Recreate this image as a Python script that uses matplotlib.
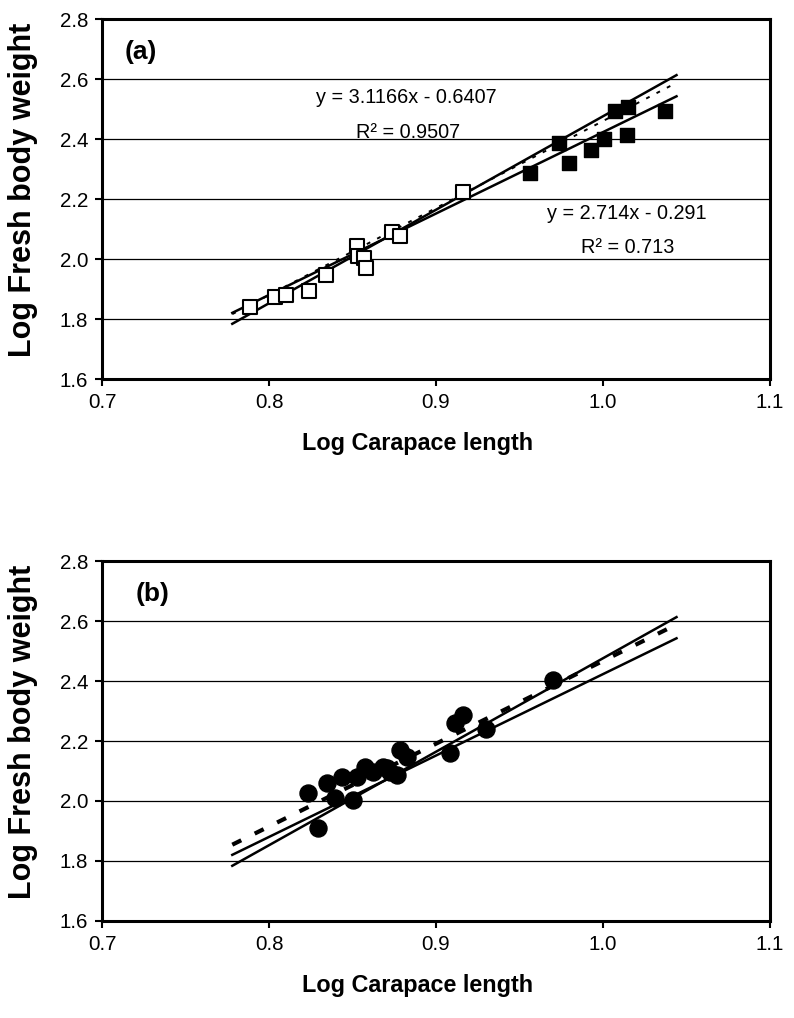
import matplotlib
matplotlib.use("Agg")
import matplotlib.pyplot as plt
from matplotlib import font_manager
import numpy as np

_names = {f.name for f in font_manager.fontManager.ttflist}
NARROW = 'Liberation Sans Narrow' in _names
H_FAMILY = ['Liberation Sans Narrow', 'Liberation Sans', 'DejaVu Sans'] if NARROW else ['Liberation Sans', 'DejaVu Sans']
K = 1.0 if NARROW else 0.82   # keep text widths similar if no narrow face
plt.rcParams['font.family'] = H_FAMILY

# ---- data: panel (a) ----
a_open_x = [0.7886, 0.8036, 0.8102, 0.8240, 0.8341, 0.8527, 0.8533, 0.8569, 0.8581, 0.8737, 0.8784, 0.9162]
a_open_y = [1.840, 1.873, 1.880, 1.893, 1.947, 2.043, 2.010, 2.003, 1.970, 2.090, 2.077, 2.223]
a_fill_x = [0.9563, 0.9737, 0.9796, 0.9928, 1.0006, 1.0072, 1.0150, 1.0144, 1.0371]
a_fill_y = [2.287, 2.387, 2.320, 2.363, 2.400, 2.493, 2.507, 2.413, 2.493]

# ---- data: panel (b) ----
b_x = [0.8235, 0.8295, 0.8346, 0.8395, 0.8435, 0.8505, 0.8525, 0.8575, 0.8625, 0.8685,
       0.8705, 0.8725, 0.8765, 0.8784, 0.8824, 0.9084, 0.9114, 0.9164, 0.9300, 0.9700]
b_y = [2.026, 1.909, 2.059, 2.009, 2.081, 2.003, 2.081, 2.114, 2.098, 2.114,
       2.109, 2.098, 2.087, 2.170, 2.148, 2.159, 2.259, 2.287, 2.240, 2.405]

# regression lines (slope, intercept)
line1 = (3.1166, -0.6407)
line2 = (2.714, -0.291)
dash_a = (2.90, -0.44)
dash_b = (2.76, -0.293)
line_x = [0.778, 1.044]

x_ticks = [0.7, 0.8, 0.9, 1.0, 1.1]
y_ticks = [1.6, 1.8, 2.0, 2.2, 2.4, 2.6, 2.8]
x_label = "Log Carapace length"
y_label = "Log Fresh body weight"

fig = plt.figure(figsize=(7.94, 10.18), dpi=100)
fig.patch.set_facecolor('white')

ax_a = fig.add_axes([0.1285, 0.6277, 0.8413, 0.3536])
ax_b = fig.add_axes([0.1285, 0.0953, 0.8413, 0.3536])


def style(ax, tag, tag_x):
    ax.set_xlim(0.7, 1.1)
    ax.set_ylim(1.6, 2.8)
    ax.set_xticks(x_ticks)
    ax.set_yticks(y_ticks)
    ax.set_xticklabels([f"{t:.1f}" for t in x_ticks])
    ax.set_yticklabels([f"{t:.1f}" for t in y_ticks])
    ax.tick_params(axis='both', direction='out', length=5, width=1.5,
                   labelsize=18 * K, pad=5, colors='black')
    for s in ax.spines.values():
        s.set_linewidth(2.2)
        s.set_color('black')
    ax.yaxis.grid(True, color='black', linewidth=0.9)
    ax.set_axisbelow(True)
    ax.set_xlabel(x_label, fontsize=20.5 * K, fontweight='bold')
    ax.xaxis.set_label_coords(0.473, -0.18)
    ax.xaxis.label.set_va('center')
    ax.set_ylabel(y_label, fontsize=22, fontweight='bold',
                  family=['Liberation Sans', 'DejaVu Sans'])
    ax.yaxis.set_label_coords(-0.118, 0.525)
    ax.yaxis.label.set_va('center')
    ax.text(tag_x, 2.69, tag, fontsize=19, fontweight='bold', ha='left', va='center')


def draw_line(ax, coef, **kw):
    xs = np.array(line_x)
    ax.plot(xs, coef[0] * xs + coef[1], **kw)


style(ax_a, "(a)", 0.7138)
draw_line(ax_a, line1, color='black', lw=1.8, zorder=3)
draw_line(ax_a, line2, color='black', lw=1.8, zorder=3)
draw_line(ax_a, dash_a, color='black', lw=1.4, dashes=(2, 4), zorder=3)
ax_a.scatter(a_open_x, a_open_y, marker='s', s=100, facecolors='white', edgecolors='black',
             linewidths=1.5, zorder=4)
ax_a.scatter(a_fill_x, a_fill_y, marker='s', s=100, facecolors='black', edgecolors='black',
             linewidths=1.0, zorder=4)
fs_ann = 17.5 * K
ax_a.text(0.882, 2.537, "y = 3.1166x - 0.6407", fontsize=fs_ann, ha='center', va='center')
ax_a.text(0.883, 2.423, "R² = 0.9507", fontsize=fs_ann, ha='center', va='center')
ax_a.text(1.0144, 2.153, "y = 2.714x - 0.291", fontsize=fs_ann, ha='center', va='center')
ax_a.text(1.015, 2.040, "R² = 0.713", fontsize=fs_ann, ha='center', va='center')

style(ax_b, "(b)", 0.7200)
draw_line(ax_b, line1, color='black', lw=1.8, zorder=3)
draw_line(ax_b, line2, color='black', lw=1.8, zorder=3)
draw_line(ax_b, dash_b, color='black', lw=3.0, dashes=(2.4, 3.6), zorder=3)
ax_b.scatter(b_x, b_y, marker='o', s=150, facecolors='black', edgecolors='black', zorder=4)

fig.savefig("out.png", dpi=100, facecolor='white')
